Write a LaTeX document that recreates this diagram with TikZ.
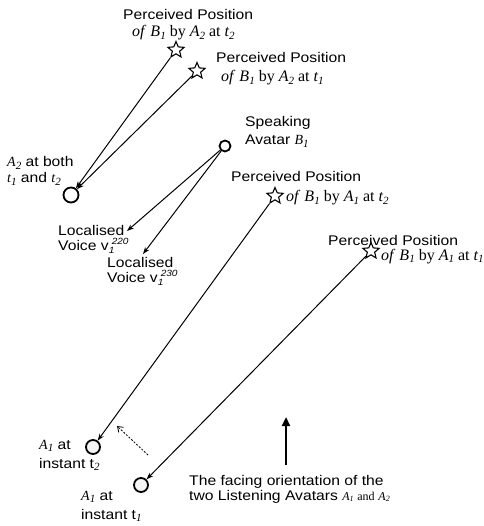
\documentclass[tikz,border=0pt]{standalone}
\usepackage{fontspec}
\setmainfont{Liberation Sans}[FakeStretch=1.12]
\newfontfamily\tm{Liberation Serif}
\usetikzlibrary{shapes.geometric,arrows.meta}
\newcommand{\mvar}[2]{{\tm\itshape #1}\raisebox{-0.4ex}{\fontsize{11}{11}\selectfont\tm\itshape #2}}
\newcommand{\svar}[2]{{\tm\itshape #1}\raisebox{-0.3ex}{\fontsize{8}{8}\selectfont\tm\itshape #2}}
\newcommand{\vsub}[2]{v\rlap{\raisebox{-0.45ex}{\fontsize{9}{9}\selectfont\itshape #1}}\hspace{3pt}\raisebox{0.75ex}{\fontsize{9}{9}\selectfont\itshape #2}}
\tikzset{
  lbl/.style={anchor=base west, inner sep=0pt, font=\fontsize{14}{16}\selectfont},
  slbl/.style={anchor=base west, inner sep=0pt, font=\tm\fontsize{16}{18}\selectfont},
  pstar/.style={star, star points=5, star point ratio=2.2, draw, line width=1.1pt, minimum size=17pt, inner sep=0pt, fill=white},
  avatar/.style={circle, draw, line width=1.8pt, minimum size=14pt, inner sep=0pt, fill=black!4},
  conn/.style={line width=1pt, -{Stealth[length=7pt,width=5pt]}},
}
\begin{document}
\begin{tikzpicture}[x=1pt,y=-1pt]
\useasboundingbox (0,0) rectangle (483,526);
% stars
\node[pstar] (S1) at (176,50) {};
\node[pstar] (S2) at (197,71) {};
\node[pstar] (S3) at (275,196) {};
\node[pstar] (S4) at (371,251) {};
% avatars
\node[avatar, minimum size=15pt, fill=white] (A2c) at (71,195) {};
\node[avatar, minimum size=11pt, fill=white] (B1c) at (225,146) {};
\node[avatar] (A1t2) at (93,447) {};
\node[avatar] (A1t1) at (141,485) {};
\coordinate (V220) at (127,231);
\coordinate (V230) at (143,254);
\coordinate (DA) at (148,455);
\coordinate (DB) at (117,426);
\coordinate (UA) at (286,465);
\coordinate (UB) at (286,417);
% connectors
\draw[conn] (S1) -- (A2c);
\draw[conn] (S2) -- (A2c);
\draw[conn] (B1c) -- (V220);
\draw[conn] (B1c) -- (V230);
\draw[conn] (S3) -- (A1t2);
\draw[conn] (S4) -- (A1t1);
\draw[line width=0.8pt, dashed, dash pattern=on 2pt off 1.5pt, -{Straight Barb[length=5pt,width=7pt]}] (DA) -- (DB);
\draw[line width=2.2pt, -{Triangle[length=9pt,width=8pt]}] (UA) -- (UB);
% labels
\node[lbl] (P1a) at (123,20) {Perceived Position};
\node[slbl] (P1b) at (132,37) {\textit{of} \mvar{B}{1} by \mvar{A}{2} at \mvar{t}{2}};
\node[lbl] (P2a) at (216,63) {Perceived Position};
\node[slbl] (P2b) at (221,82) {\textit{of} \mvar{B}{1} by \mvar{A}{2} at \mvar{t}{1}};
\node[lbl] (SPa) at (245,127) {Speaking};
\node[lbl] (SPb) at (245,145) {Avatar \mvar{B}{1}};
\node[lbl] (A2a) at (7,167) {\mvar{A}{2} at both};
\node[lbl] (A2b) at (7,183) {\mvar{t}{1} and \mvar{t}{2}};
\node[lbl] (L1a) at (58,235) {Localised};
\node[lbl] (L1b) at (58,250) {Voice \vsub{1}{220}};
\node[lbl] (L2a) at (107,267) {Localised};
\node[lbl] (L2b) at (107,282) {Voice \vsub{1}{230}};
\node[lbl] (P3a) at (231,182) {Perceived Position};
\node[slbl] (P3b) at (286,202) {\textit{of} \mvar{B}{1} by \mvar{A}{1} at \mvar{t}{2}};
\node[lbl] (P4a) at (328,245) {Perceived Position};
\node[slbl] (P4b) at (381,260) {\textit{of} \mvar{B}{1} by \mvar{A}{1} at \mvar{t}{1}};
\node[lbl] (T2a) at (39,449) {\mvar{A}{1} at};
\node[lbl] (T2b) at (39,468) {instant t\raisebox{-0.4ex}{\fontsize{11}{11}\selectfont\tm\itshape 2}};
\node[lbl] (T1a) at (81,500) {\mvar{A}{1} at};
\node[lbl] (T1b) at (81,519) {instant t\raisebox{-0.4ex}{\fontsize{11}{11}\selectfont\tm\itshape 1}};
\node[lbl] (F1) at (189,485) {The facing orientation of the};
\node[lbl] (F2) at (189,500) {two Listening Avatars {\fontsize{12}{12}\selectfont\svar{A}{1} {\tm and} \svar{A}{2}}};
\end{tikzpicture}
\end{document}
